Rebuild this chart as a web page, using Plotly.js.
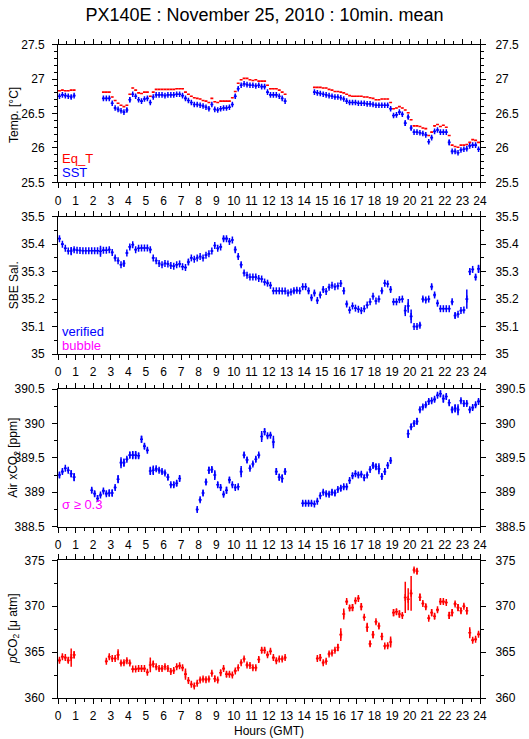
<!DOCTYPE html>
<html>
<head>
<meta charset="utf-8">
<script src="https://cdn.plot.ly/plotly-3.0.1.min.js"></script>
<style>html,body{margin:0;padding:0;background:#fff;}#chart{width:529px;height:739px;}</style>
</head>
<body>
<div id="chart"></div>
<script>
// 10-minute means, 144 per day; one line per hour (6 values)
const eqT = [
26.83,26.84,26.83,26.83,26.84,26.84,
null,null,null,null,null,null,
null,null,null,26.81,26.81,26.81,
26.74,26.69,26.65,26.62,26.60,26.62,
26.78,26.87,26.84,26.80,26.79,26.81,
26.81,26.75,26.81,26.85,26.85,26.85,
26.85,26.85,26.85,26.85,26.86,26.86,
26.86,26.81,26.78,26.75,26.73,26.72,
26.71,26.69,26.68,26.66,26.72,26.67,
26.66,26.68,26.68,26.68,26.68,26.73,
26.82,26.94,26.99,27.01,27.01,26.99,
26.98,26.99,26.97,26.97,26.97,26.91,
26.86,26.86,26.86,26.84,26.81,26.78,
null,null,null,null,null,null,
null,null,null,26.88,26.88,26.88,
26.87,26.87,26.85,26.84,26.82,26.82,
26.81,26.80,26.78,26.76,26.75,26.75,
26.75,26.75,26.74,26.74,26.73,26.72,
26.70,26.70,26.71,26.71,26.71,26.66,
26.57,26.58,26.60,26.58,26.55,26.51,
26.41,26.32,26.32,26.31,26.29,26.28,
26.18,26.23,26.32,26.34,26.31,26.33,
26.30,26.18,26.04,26.02,26.01,26.04,
26.04,26.05,26.08,26.12,26.11,26.08];

const sst = [
26.75,26.77,26.76,26.75,26.74,26.76,
null,null,null,null,null,null,
null,null,null,26.72,26.72,26.72,
26.65,26.58,26.56,26.54,26.52,26.55,
26.70,26.78,26.75,26.70,26.68,26.71,
26.72,26.66,26.74,26.77,26.77,26.77,
26.76,26.77,26.77,26.77,26.78,26.78,
26.76,26.72,26.69,26.66,26.63,26.63,
26.62,26.61,26.59,26.57,26.63,26.56,
26.55,26.57,26.58,26.58,26.59,26.63,
26.75,26.86,26.91,26.93,26.92,26.91,
26.91,26.90,26.91,26.89,26.89,26.81,
26.77,26.77,26.77,26.75,26.72,26.68,
null,null,null,null,null,null,
null,null,null,26.81,26.80,26.79,
26.78,26.77,26.76,26.75,26.74,26.74,
26.73,26.71,26.68,26.66,26.66,26.66,
26.65,26.65,26.65,26.64,26.64,26.63,
26.62,26.62,26.62,26.62,26.62,26.57,
26.47,26.48,26.52,26.49,26.36,26.45,
26.29,26.23,26.23,26.22,26.21,26.19,
26.09,26.15,26.24,26.26,26.23,26.23,
26.23,26.08,25.95,25.95,25.93,25.97,
25.98,25.99,26.03,26.04,26.04,25.98];

const sstErr = [
.01,.01,.01,.01,.025,.015,
0,0,0,0,0,0,
0,0,0,.01,.01,.01,
.01,.015,.01,.01,.015,.03,
.035,.01,.01,.01,.01,.01,
.01,.015,.01,.01,.01,.01,
.01,.01,.01,.01,.01,.01,
.01,.015,.01,.01,.01,.01,
.01,.01,.01,.02,.01,.01,
.01,.01,.01,.01,.01,.015,
.03,.02,.01,.01,.01,.01,
.01,.01,.01,.01,.015,.01,
.01,.01,.01,.01,.01,.01,
0,0,0,0,0,0,
0,0,0,.01,.01,.01,
.01,.01,.01,.01,.01,.01,
.01,.01,.01,.01,.01,.01,
.01,.01,.01,.01,.01,.01,
.01,.01,.01,.01,.01,.02,
.015,.01,.015,.02,.04,.03,
.035,.015,.01,.01,.01,.015,
.015,.015,.01,.01,.01,.015,
.01,.04,.015,.01,.01,.01,
.01,.01,.01,.01,.02,.01];

const sal = [
35.42,35.40,35.385,35.375,35.375,35.38,
35.378,35.377,35.376,35.376,35.376,35.376,
35.376,35.376,35.374,35.378,35.378,35.380,
35.37,35.35,35.34,35.325,35.33,35.368,
35.39,35.398,35.38,35.385,35.386,35.386,
35.386,35.38,35.35,35.34,35.33,35.325,
35.33,35.328,35.322,35.32,35.325,35.328,
35.318,35.315,35.335,35.35,35.345,35.35,
35.355,35.35,35.36,35.365,35.375,35.395,
35.385,35.39,35.42,35.42,35.41,35.415,
35.38,35.355,35.325,35.295,35.287,35.28,
35.28,35.28,35.275,35.273,35.262,35.258,
35.25,35.23,35.23,35.23,35.229,35.229,
35.222,35.226,35.23,35.232,35.23,35.245,
35.245,35.23,35.205,35.222,35.195,35.215,
35.235,35.228,35.243,35.25,35.245,35.248,
35.257,35.23,35.182,35.16,35.175,35.167,
35.163,35.158,35.165,35.178,35.19,35.21,
35.193,35.2,35.23,35.258,35.255,35.235,
35.19,35.19,35.198,35.2,35.158,35.175,
35.137,35.10,35.10,35.105,35.2,35.197,
35.2,35.245,35.215,35.185,35.165,35.165,
35.165,35.165,35.19,35.14,35.145,35.158,
35.16,35.2,35.3,35.308,35.28,35.31];

const salErr = [
.003,.004,.004,.004,.015,.006,
.003,.003,.003,.003,.003,.003,
.003,.003,.02,.004,.003,.003,
.004,.006,.004,.003,.01,.004,
.006,.006,.003,.003,.003,.003,
.003,.007,.004,.003,.003,.003,
.003,.003,.003,.003,.003,.003,
.003,.003,.01,.004,.003,.004,
.003,.003,.003,.004,.004,.004,
.006,.004,.008,.006,.004,.004,
.01,.006,.008,.005,.004,.003,
.003,.004,.003,.003,.004,.006,
.004,.003,.003,.003,.003,.003,
.004,.003,.008,.006,.004,.003,
.003,.01,.008,.008,.006,.008,
.007,.004,.005,.004,.003,.003,
.004,.012,.008,.004,.004,.003,
.003,.004,.003,.004,.004,.004,
.004,.004,.008,.004,.004,.008,
.004,.004,.004,.004,.02,.025,
.025,.003,.004,.008,.008,.006,
.004,.008,.008,.006,.004,.003,
.003,.003,.008,.01,.004,.004,
.004,.035,.012,.004,.01,.015];

const xco2 = [
389.25,389.30,389.35,389.32,389.27,389.22,
null,null,null,null,null,389.03,
388.98,388.91,388.96,389.02,388.98,388.99,
388.99,389.07,389.19,389.43,389.43,389.48,
389.54,389.54,389.54,389.53,389.77,389.67,
389.61,389.31,389.32,389.34,389.32,389.30,
389.28,389.22,389.11,389.11,389.13,389.20,
null,null,null,null,null,388.75,
388.89,388.99,389.15,389.32,389.33,389.25,
389.11,389.07,388.97,389.03,389.18,389.11,
389.07,389.08,389.30,389.54,389.47,389.35,
389.41,389.48,389.54,389.81,389.88,389.82,
389.83,389.73,389.30,389.22,389.20,389.30,
null,null,null,null,null,388.84,
388.84,388.84,388.84,388.83,388.87,388.95,
389.00,388.98,388.97,389.00,388.99,389.04,
389.06,389.08,389.08,389.17,389.24,389.27,
389.25,389.26,389.21,389.25,389.33,389.39,
389.37,389.34,389.23,389.30,389.39,389.46,
null,null,null,null,null,389.85,
389.95,390.00,390.03,390.20,390.24,390.27,
390.32,390.33,390.35,390.41,390.43,390.36,
390.39,390.30,390.20,390.22,390.20,390.33,
390.29,390.29,390.20,390.23,390.27,390.32];

const xco2Err = [
.04,.03,.02,.03,.05,.06,
0,0,0,0,0,.04,
.04,.05,.03,.03,.03,.05,
.05,.03,.06,.08,.06,.03,
.05,.06,.06,.04,.05,.04,
.03,.06,.07,.03,.03,.03,
.03,.04,.03,.04,.04,.04,
0,0,0,0,0,.03,
.03,.04,.04,.05,.04,.07,
.04,.03,.03,.05,.04,.03,
.03,.03,.08,.04,.04,.03,
.03,.04,.03,.08,.05,.03,
.03,.09,.05,.05,.06,.04,
0,0,0,0,0,.03,
.03,.03,.03,.02,.03,.03,
.03,.03,.03,.04,.04,.03,
.04,.03,.03,.03,.04,.03,
.04,.03,.04,.03,.03,.04,
.04,.08,.04,.05,.03,.04,
0,0,0,0,0,.06,
.04,.03,.05,.03,.03,.03,
.04,.03,.03,.03,.05,.06,
.04,.04,.04,.06,.08,.03,
.03,.03,.03,.03,.03,.03];

const pco2 = [
364.1,364.5,364.4,364.1,364.4,364.7,
null,null,null,null,null,null,
null,null,null,null,364.0,364.5,
364.3,364.3,364.7,363.8,363.85,364.07,
363.8,363.15,363.15,363.2,363.2,363.2,
362.8,363.6,363.7,363.4,363.2,363.2,
363.4,363.2,362.9,363.0,363.4,363.5,
363.3,362.6,361.9,361.5,361.3,361.6,
361.96,362.07,362.0,362.07,362.7,362.1,
361.96,362.75,363.2,362.6,362.6,362.5,
362.95,363.3,363.85,364.25,363.6,363.55,
363.3,363.3,364.2,365.2,365.2,364.7,
365.1,364.4,364.07,364.25,364.25,364.4,
null,null,null,null,null,null,
null,null,null,null,364.3,364.4,
363.85,364.0,364.8,364.9,365.2,365.5,
366.9,369.15,370.5,369.8,369.85,370.6,
370.85,369.95,368.8,367.7,365.9,366.9,
368.3,367.85,366.7,365.66,365.7,366.1,
369.3,369.4,369.15,369.0,370.95,370.75,
371.4,373.95,373.8,370.97,370.3,369.95,
368.7,369.3,368.9,369.6,370.5,370.5,
370.4,369.0,369.3,370.25,369.85,369.5,
370.0,369.5,367.1,366.3,366.4,366.95];

const pco2Err = [
.2,.2,.2,.3,1.0,.4,
0,0,0,0,0,0,
0,0,0,0,.2,.2,
.2,.2,.6,.2,.2,.2,
.2,.15,.15,.15,.15,.15,
.2,.8,.3,.2,.2,.2,
.2,.2,.2,.2,.2,.2,
.2,.6,.2,.2,.2,.2,
.2,.2,.2,.2,.2,.3,
.2,.3,.2,.3,.2,.2,
.2,.2,.2,.2,.2,.2,
.2,.2,.3,.3,.3,.2,
.2,.2,.2,.2,.2,.2,
0,0,0,0,0,0,
0,0,0,0,.2,.4,
.2,.2,.2,.2,.2,.4,
.7,.6,.2,.3,.4,.2,
.2,.4,.2,.5,.3,.4,
.2,.3,.4,.2,.2,.6,
.4,.3,.4,.2,1.7,1.2,
1.9,.2,.3,.4,.2,.3,
.2,.4,.3,.2,.3,.2,
.2,.4,.4,.2,.4,.3,
.2,.4,.6,.2,.2,.2];

const hourTicks = ['0','1','2','3','4','5','6','7','8','9','10','11','12','13','14','15','16','17','18','19','20','21','22','23','24'];
const hours = eqT.map((_, i) => (i + 0.5) / 6);   // centre of each 10-min interval

const FONT = 'Liberation Sans, Arial, Helvetica, sans-serif';
const BLUE = '#0000ff', RED = '#ff0000', MAG = '#ff00ff';

// a "+" mark: short vertical tick (marker) + 10-min horizontal bar + std-dev vertical bar
function crossTrace(y, err, color, xa, ya, tick) {
  const t = {
    type: 'scatter', mode: 'markers', x: hours, y: y, xaxis: xa, yaxis: ya,
    marker: tick ? {symbol: 'line-ns', size: tick, color: color, line: {width: 1.5, color: color}}
                 : {size: 1, color: color},
    error_x: {type: 'constant', value: 1/12, width: 0, thickness: 1.6, color: color},
    hoverinfo: 'skip', showlegend: false
  };
  if (err) t.error_y = {type: 'data', array: err, visible: true, width: 0, thickness: 1.5, color: color};
  return t;
}

const data = [
  crossTrace(eqT, null, RED, 'x', 'y', 0),
  crossTrace(sst, sstErr, BLUE, 'x', 'y', 4),
  crossTrace(sal, salErr, BLUE, 'x2', 'y2', 5),
  crossTrace(xco2, xco2Err, BLUE, 'x3', 'y3', 5),
  crossTrace(pco2, pco2Err, RED, 'x4', 'y4', 5)
];

const H = 739;
const panels = [
  {top: 44.7, bot: 182.3, range: [25.5, 27.5], dtick: 0.5, minor: 0.1},
  {top: 216.7, bot: 354, range: [35, 35.5], dtick: 0.1, minor: 0.05},
  {top: 389, bot: 526.7, range: [388.5, 390.5], dtick: 0.5, minor: 0.25},
  {top: 560.3, bot: 698, range: [360, 375], dtick: 5, minor: 2.5}
];

const layout = {
  width: 529, height: 739,
  margin: {l: 58, r: 49, t: 0, b: 0, pad: 0},
  paper_bgcolor: '#fff', plot_bgcolor: '#fff',
  font: {family: FONT, size: 12, color: '#000'},
  showlegend: false,
  title: {text: 'PX140E : November 25, 2010 : 10min. mean', font: {family: FONT, size: 18, color: '#000'},
          x: 0.5, xanchor: 'center', y: 1 - 15/739, yanchor: 'middle'},
  annotations: []
};

panels.forEach((p, k) => {
  const n = k + 1;
  const sfx = n === 1 ? '' : String(n);
  const dom = [1 - p.bot / H, 1 - p.top / H];
  layout['xaxis' + sfx] = {
    domain: [0, 1], anchor: 'y' + sfx, range: [0, 24], tickmode: 'array',
    tickvals: hourTicks.map(Number), ticktext: hourTicks,
    ticks: 'outside', ticklen: 5, tickwidth: 1, tickcolor: '#000',
    minor: {dtick: 0.5, tick0: 0, ticks: 'outside', ticklen: 3, tickcolor: '#000', showgrid: false},
    showline: true, linecolor: '#000', linewidth: 1, mirror: 'ticks',
    showgrid: false, zeroline: false, tickfont: {size: 12}, ticklabelstandoff: 2, fixedrange: true
  };
  layout['yaxis' + sfx] = {
    domain: dom, anchor: 'x' + sfx, range: p.range, dtick: p.dtick, tick0: p.range[0],
    ticks: 'outside', ticklen: 5, tickwidth: 1, tickcolor: '#000',
    minor: {dtick: p.minor, ticks: 'outside', ticklen: 3, tickcolor: '#000', showgrid: false},
    showline: true, linecolor: '#000', linewidth: 1, mirror: 'ticks',
    showgrid: false, zeroline: false, tickfont: {size: 12}, ticklabelstandoff: 5, fixedrange: true
  };
  // right-hand labelled axis
  layout['yaxis' + (n + 4)] = {
    domain: dom, anchor: 'x' + sfx, overlaying: 'y' + sfx, side: 'right',
    range: p.range, dtick: p.dtick, tick0: p.range[0],
    ticks: 'outside', ticklen: 5, tickcolor: '#000', showline: false,
    minor: {dtick: p.minor, ticks: 'outside', ticklen: 3, tickcolor: '#000', showgrid: false},
    showgrid: false, zeroline: false, tickfont: {size: 12}, ticklabelstandoff: 7, fixedrange: true
  };
  data.push({type: 'scatter', mode: 'markers', x: [0], y: [p.range[0]], xaxis: 'x' + sfx,
             yaxis: 'y' + (n + 4), marker: {opacity: 0}, hoverinfo: 'skip', showlegend: false});
});

const px = v => (v - 58) / 422;
const py = v => 1 - v / H;
const ylabels = [
  ['Temp. [°C]', 115], ['SBE Sal.', 285.3], ['Air xCO<sub>2</sub> [ppm]', 457.8], ['<i>p</i>CO<sub>2</sub> [μ atm]', 629.1]
];
ylabels.forEach(([t, y]) => layout.annotations.push({
  text: t, xref: 'paper', yref: 'paper', x: px(14), y: py(y), textangle: -90,
  showarrow: false, xanchor: 'center', yanchor: 'middle', font: {size: 12}
}));
const legendTexts = [
  ['Eq_T', RED, 158], ['SST', BLUE, 172.5],
  ['verified', BLUE, 332], ['bubble', MAG, 345.5],
  ['σ ≥ 0.3', MAG, 504]
];
legendTexts.forEach(([t, c, y]) => layout.annotations.push({
  text: t, xref: 'paper', yref: 'paper', x: px(60), y: py(y), showarrow: false,
  xanchor: 'left', yanchor: 'middle', font: {size: 13, color: c}
}));
layout.annotations.push({text: 'Hours (GMT)', xref: 'paper', yref: 'paper', x: px(269), y: py(731),
  showarrow: false, xanchor: 'center', yanchor: 'middle', font: {size: 12}});

Plotly.newPlot('chart', data, layout, {displayModeBar: false, staticPlot: true});
</script>
</body>
</html>
